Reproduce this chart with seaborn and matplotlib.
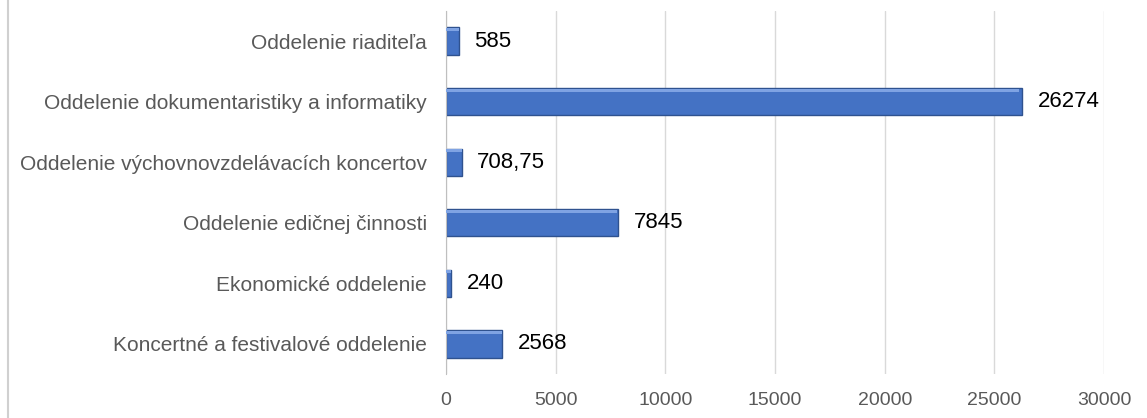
import matplotlib
matplotlib.use("Agg")
import matplotlib.pyplot as plt
import seaborn as sns
import pandas as pd
from matplotlib.lines import Line2D

categories = [
    "Oddelenie riaditeľa",
    "Oddelenie dokumentaristiky a informatiky",
    "Oddelenie výchovnovzdelávacích koncertov",
    "Oddelenie edičnej činnosti",
    "Ekonomické oddelenie",
    "Koncertné a festivalové oddelenie",
]
values = [585, 26274, 708.75, 7845, 240, 2568]
value_labels = ["585", "26274", "708,75", "7845", "240", "2568"]
x_ticks = [0, 5000, 10000, 15000, 20000, 25000, 30000]

df = pd.DataFrame({"oddelenie": categories, "hodnota": values})

sns.set_style("white")
plt.rcParams["font.family"] = ["Liberation Sans", "DejaVu Sans"]

fig = plt.figure(figsize=(11.47, 4.18), dpi=100)
ax = fig.add_axes([0.389, 0.105, 0.5735, 0.869])

sns.barplot(data=df, x="hodnota", y="oddelenie", orient="h", color="#4472C4",
            width=0.45, edgecolor="#2F528F", linewidth=1.0, saturation=1, ax=ax)

# light top edge to hint at the bevelled bars
for i, v in enumerate(values):
    ax.barh(i - 0.19, v * 0.995, height=0.05, color="#7FA3E3", linewidth=0, zorder=3)

for i, (v, lab) in enumerate(zip(values, value_labels)):
    ax.text(v + 700, i, lab, va="center", ha="left", fontsize=16, color="black")

ax.set_xlim(0, 30000)
ax.set_xticks(x_ticks)
ax.set_xticklabels([str(t) for t in x_ticks])
ax.grid(axis="x", color="#d9d9d9", linewidth=1)
ax.set_axisbelow(True)
ax.set_xlabel("")
ax.set_ylabel("")
for side in ["top", "right", "bottom"]:
    ax.spines[side].set_visible(False)
ax.spines["left"].set_color("#bfbfbf")
ax.tick_params(axis="y", length=0, labelsize=15, colors="#595959", pad=14)
ax.tick_params(axis="x", length=0, labelsize=14, colors="#595959", pad=13)

# left frame line of the chart area
fig.add_artist(Line2D([0.007, 0.007], [0.0, 1.0], color="#d0d0d0", linewidth=1.5))

fig.savefig("out.png", dpi=100)
